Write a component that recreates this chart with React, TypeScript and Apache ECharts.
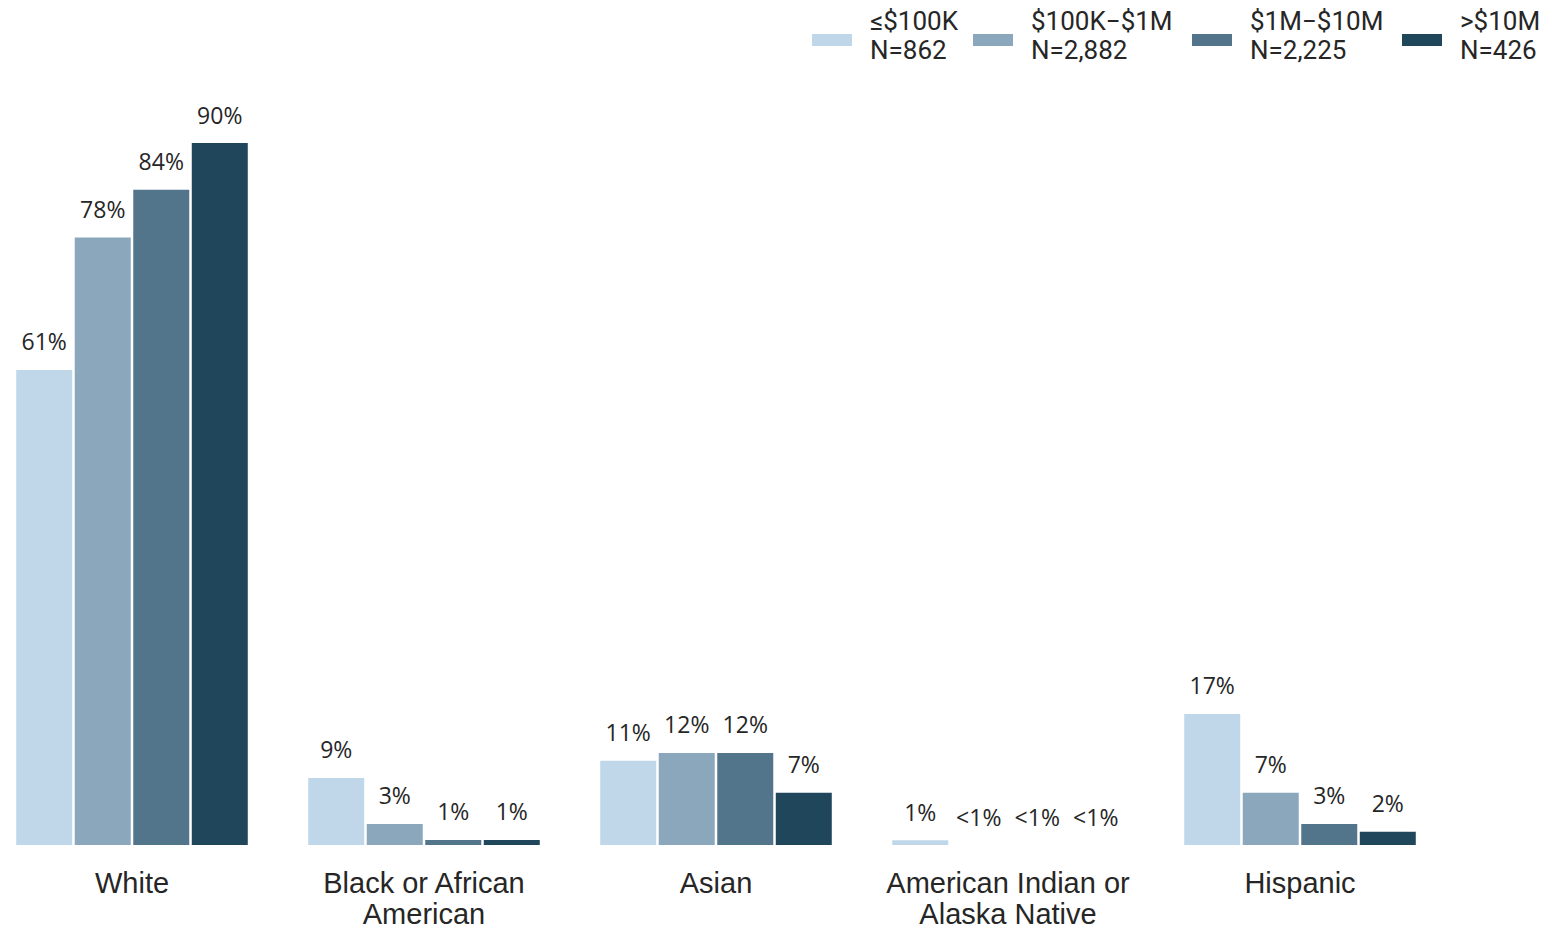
import React, { useEffect, useRef } from "react";
import * as echarts from "echarts";

const categories = ["White", "Black or African\nAmerican", "Asian", "American Indian or\nAlaska Native", "Hispanic"];
const seriesNames = ["≤$100K", "$100K−$1M", "$1M−$10M", ">$10M"];
const seriesN = ["N=862", "N=2,882", "N=2,225", "N=426"];
const colors = ["#c0d7ea", "#8aa7bc", "#52758c", "#20465c"];
const valuesLow = [60.9, 8.6, 10.8, 0.6, 16.8];
const valuesMid = [77.9, 2.7, 11.8, 0, 6.7];
const valuesHigh = [84.0, 0.65, 11.8, 0, 2.7];
const valuesTop = [90.0, 0.65, 6.7, 0, 1.7];
const seriesValues = [valuesLow, valuesMid, valuesHigh, valuesTop];
const legendLeft = [827, 988, 1207, 1417];

// legend swatch: a 40x12 block sitting low inside a 40x22 icon box
const swatchIcon = "path://M0,0L40,0L40,0.01L0,0.01Z M0,10L40,10L40,22L0,22Z";

export default function App() {
  const ref = useRef<HTMLDivElement>(null);
  useEffect(() => {
    const chart = echarts.init(ref.current!, null, { renderer: "svg" });
    chart.setOption({
      animation: false,
      backgroundColor: "#ffffff",
      grid: { left: 1, right: 104, top: 65, bottom: 85 },
      legend: seriesNames.map((n, i) => ({
        data: [n],
        left: legendLeft[i],
        top: 6,
        padding: 0,
        itemWidth: 40,
        itemHeight: 22,
        icon: swatchIcon,
        selectedMode: false,
        formatter: (name: string) => name + "\n" + seriesN[i],
        textStyle: {
          fontFamily: "Roboto",
          fontSize: 26,
          lineHeight: 29,
          color: "#262626",
          padding: [0, 0, 0, 13],
        },
      })),
      xAxis: {
        type: "category",
        data: categories,
        axisLine: { show: false },
        axisTick: { show: false },
        axisLabel: {
          interval: 0,
          fontFamily: "Liberation Sans",
          fontSize: 29,
          lineHeight: 31,
          color: "#262626",
          margin: 22,
        },
      },
      yAxis: {
        type: "value",
        min: 0,
        max: 100,
        show: false,
        splitLine: { show: false },
      },
      series: seriesNames.map((n, i) => ({
        name: n,
        type: "bar",
        data: seriesValues[i],
        barWidth: 56,
        barGap: "4.5%",
        itemStyle: { color: colors[i] },
        label: {
          show: true,
          position: "top",
          distance: 17,
          fontFamily: "Open Sans",
          fontSize: 23,
          color: "#262626",
          formatter: (p: any) => (p.value < 0.5 ? "<1%" : Math.round(p.value) + "%"),
        },
      })),
    });
    return () => chart.dispose();
  }, []);
  return <div ref={ref} style={{ position: "absolute", left: -15, top: 0, width: 1565, height: 930 }} />;
}
